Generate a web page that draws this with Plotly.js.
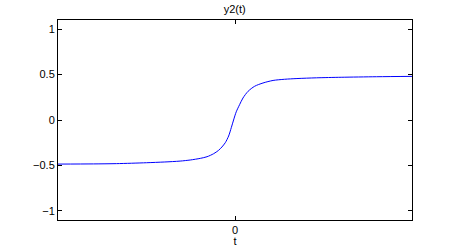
<!DOCTYPE html>
<html>
<head>
<meta charset="utf-8">
<script src="https://cdn.plot.ly/plotly-3.0.1.min.js"></script>
<style>html,body{margin:0;padding:0;background:#fff;}#plot{width:454px;height:247px;}</style>
</head>
<body>
<div id="plot"></div>
<script>
var t = [-10, -8, -6.7, -5, -4, -3.1, -2.53, -1.96, -1.58, -1.21, -0.93, -0.74, -0.55, -0.36, -0.21, -0.08, 0.07, 0.26, 0.45, 0.74, 1.11, 1.58, 2.15, 2.8, 3.5, 4.6, 6, 8, 10];
var y2 = [-0.485, -0.483, -0.480, -0.470, -0.462, -0.452, -0.440, -0.422, -0.404, -0.371, -0.334, -0.297, -0.250, -0.176, -0.085, 0.000, 0.090, 0.169, 0.242, 0.316, 0.371, 0.407, 0.435, 0.448, 0.456, 0.464, 0.470, 0.476, 0.480];
var xTickVals = [0];
var xTickText = ['0'];
var yTickVals = [-1, -0.5, 0, 0.5, 1];
var yTickText = ['\u22121', '\u22120.5', '0', '0.5', '1'];

var font = {family: 'Liberation Sans, Arial, Helvetica, sans-serif', size: 11, color: '#000'};

Plotly.newPlot('plot', [{
  x: t, y: y2, type: 'scatter', mode: 'lines',
  line: {color: '#0000ff', width: 1, shape: 'spline', smoothing: 0.8},
  hoverinfo: 'none'
}], {
  width: 454, height: 247,
  margin: {l: 58, r: 42, t: 20, b: 27, pad: 0},
  paper_bgcolor: '#fff', plot_bgcolor: '#fff',
  showlegend: false,
  font: font,
  title: {text: 'y2(t)', font: font, x: 0.517, xanchor: 'center', y: 1 - 9.5/247, yref: 'container', yanchor: 'middle'},
  xaxis: {
    range: [-10, 10], tickvals: xTickVals, ticktext: xTickText,
    ticks: 'inside', ticklen: 4, tickcolor: '#000', tickwidth: 1,
    showline: true, linecolor: '#000', linewidth: 1, mirror: 'ticks',
    showgrid: false, zeroline: false, fixedrange: true,
    tickfont: font,
    title: {text: 't', font: font, standoff: 2}
  },
  yaxis: {
    range: [-1.1, 1.1], tickvals: yTickVals, ticktext: yTickText,
    ticks: 'inside', ticklen: 4, tickcolor: '#000', tickwidth: 1,
    showline: true, linecolor: '#000', linewidth: 1, mirror: 'ticks',
    showgrid: false, zeroline: false, fixedrange: true,
    tickfont: font
  }
}, {displayModeBar: false, staticPlot: true});
</script>
</body>
</html>
